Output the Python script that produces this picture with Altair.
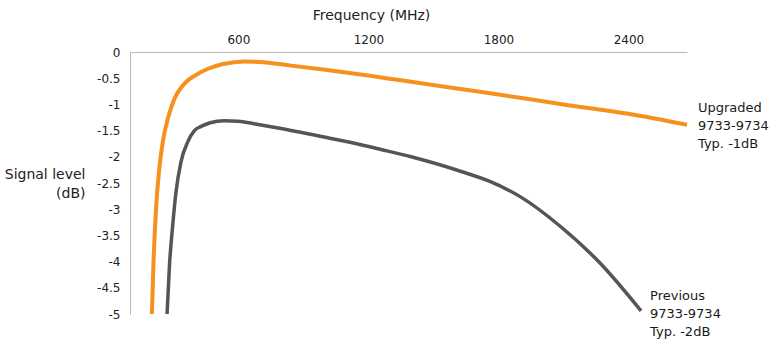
import altair as alt
import pandas as pd

# Upgraded 9733-9734 (orange)
up_freq = [201, 209, 220, 235, 251, 274, 304, 350, 412, 460, 530, 626, 700, 843, 1000, 1200, 1350, 1600, 1800, 2100, 2400, 2670]
up_level = [-5.0, -3.95, -3.0, -2.23, -1.72, -1.28, -0.90, -0.61, -0.42, -0.32, -0.23, -0.18, -0.19, -0.26, -0.34, -0.45, -0.54, -0.69, -0.81, -1.0, -1.18, -1.39]

# Previous 9733-9734 (grey)
prev_freq = [271, 282, 297, 312, 335, 366, 397, 428, 470, 534, 600, 672, 797, 1028, 1166, 1258, 1397, 1628, 1766, 1900, 2089, 2274, 2458]
prev_level = [-5.0, -4.08, -3.31, -2.68, -2.10, -1.72, -1.50, -1.42, -1.35, -1.31, -1.32, -1.37, -1.46, -1.65, -1.77, -1.86, -2.0, -2.28, -2.48, -2.76, -3.34, -4.05, -4.94]

up_label = ["Upgraded", "9733-9734", "Typ. -1dB"]
prev_label = ["Previous", "9733-9734", "Typ. -2dB"]

x_ticks = [600, 1200, 1800, 2400]
y_ticks = [0, -0.5, -1, -1.5, -2, -2.5, -3, -3.5, -4, -4.5, -5]

FONT = "DejaVu Sans"
ORANGE = "#F7901E"
GREY = "#555555"

up_df = pd.DataFrame({"freq": up_freq, "level": up_level})
prev_df = pd.DataFrame({"freq": prev_freq, "level": prev_level})

xscale = alt.Scale(domain=[100, 2670], nice=False, zero=False)
yscale = alt.Scale(domain=[-5, 0], nice=False, zero=False)

xaxis = alt.Axis(
    orient="top", values=x_ticks, format="d", grid=False, ticks=False, tickSize=0,
    labelPadding=6, labelFont=FONT, labelFontSize=12, labelColor="#222222",
    labelOverlap=False,
    domainColor="#b8b8b8", domainWidth=1,
    title="Frequency (MHz)", titleFont=FONT, titleFontSize=14, titleFontWeight="normal",
    titleColor="#222222", titleX=241, titleY=-33, titleAlign="center",
    titleBaseline="alphabetic", titleAnchor="start",
)
yaxis = alt.Axis(
    orient="left", values=y_ticks, grid=False, ticks=False, tickSize=0,
    format=".1~f",
    labelExpr="replace(datum.label, '\u2212', '-')",
    labelOverlap=False,
    labelPadding=10, labelFont=FONT, labelFontSize=12, labelColor="#222222",
    domainColor="#b8b8b8", domainWidth=1,
    title=["Signal level", "(dB)"], titleFont=FONT, titleFontSize=14,
    titleFontWeight="normal", titleColor="#222222", titleAngle=0,
    titleAlign="right", titleBaseline="alphabetic", titleX=-45, titleY=126,
    titleLineHeight=19,
)

X = alt.X("freq:Q", scale=xscale, axis=xaxis)
Y = alt.Y("level:Q", scale=yscale, axis=yaxis)

up_line = alt.Chart(up_df).mark_line(color=ORANGE, strokeWidth=4, interpolate="monotone").encode(x=X, y=Y)
prev_line = alt.Chart(prev_df).mark_line(color=GREY, strokeWidth=3.5, interpolate="monotone").encode(x=X, y=Y)

up_lab_df = pd.DataFrame({"freq": [up_freq[-1]], "level": [up_level[-1]], "label": ["\n".join(up_label)]})
prev_lab_df = pd.DataFrame({"freq": [prev_freq[-1]], "level": [prev_level[-1]], "label": ["\n".join(prev_label)]})

up_text = alt.Chart(up_lab_df).mark_text(
    align="left", baseline="middle", dx=11, dy=-17, lineBreak="\n", lineHeight=18,
    font=FONT, fontSize=13, color="#1a1a1a",
).encode(x=X, y=Y, text="label:N")

prev_text = alt.Chart(prev_lab_df).mark_text(
    align="left", baseline="middle", dx=9, dy=-15, lineBreak="\n", lineHeight=18,
    font=FONT, fontSize=13, color="#1a1a1a",
).encode(x=X, y=Y, text="label:N")

chart = alt.layer(up_line, prev_line, up_text, prev_text).properties(
    width=557, height=262,
    padding={"left": 130, "top": 52, "right": 93, "bottom": 30},
    autosize=alt.AutoSizeParams(type="none"),
    background="white",
).configure_view(stroke=None)

chart.save("out.html", embed_options={"renderer": "svg", "actions": False})
